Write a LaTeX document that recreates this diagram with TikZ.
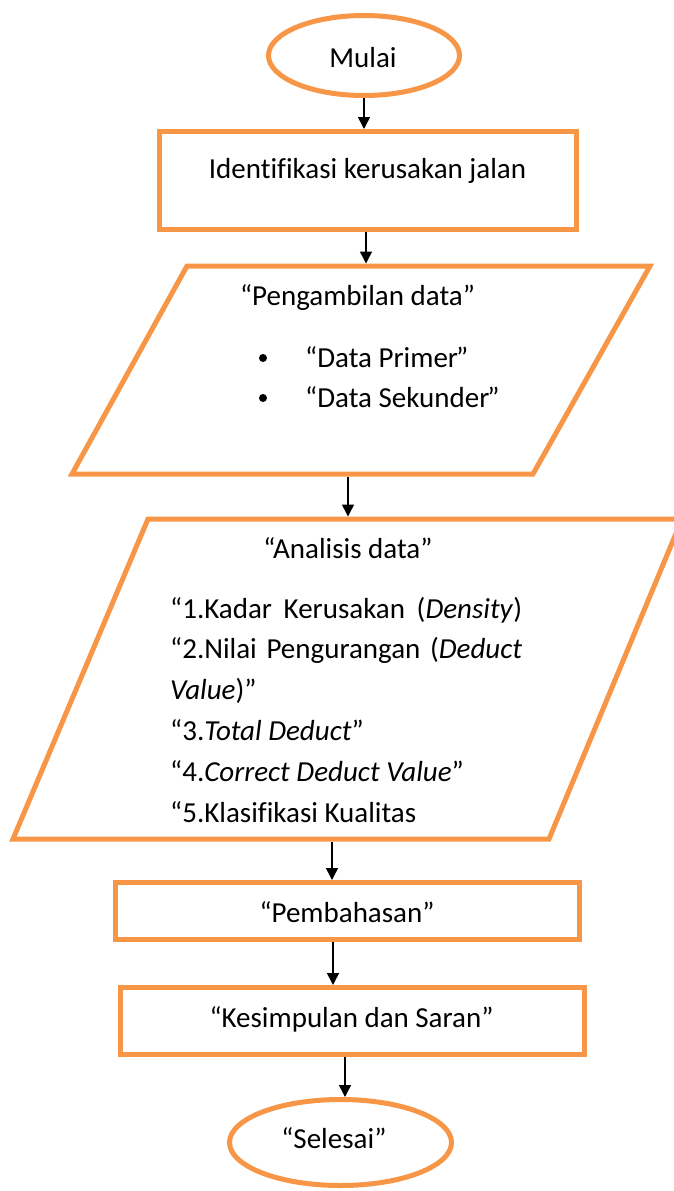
\documentclass[tikz,border=0pt]{standalone}
\usepackage{fontspec}
\setmainfont{Carlito}[Ligatures={NoCommon}]
\usetikzlibrary{shapes.geometric,arrows.meta}
\definecolor{orng}{RGB}{247,150,70}
\begin{document}
\begin{tikzpicture}[x=1pt,y=-1pt,
  box/.style={draw=orng,line width=5pt,rectangle,inner sep=0pt},
  term/.style={draw=orng,line width=5pt,ellipse,inner sep=0pt},
  io/.style={draw=orng,line width=5pt,line join=miter},
  arr/.style={draw=black,line width=1.5pt,-{Triangle[length=12pt,width=12pt]}},
  txt/.style={inner sep=0pt,font=\fontsize{29}{35}\selectfont},
  dot/.style={circle,fill=black,inner sep=0pt,minimum size=8pt}]
\useasboundingbox (0,0) rectangle (674,1191);

% shapes
\node[term,minimum width=191pt,minimum height=80pt] (mulai) at (364,55.5) {};
\node[box,minimum width=417pt,minimum height=98pt] (r1) at (368,180.5) {};
\draw[io] (187,266) -- (650,266) -- (533,474) -- (72,474) -- cycle;
\draw[io] (148,519) -- (682,519) -- (549,839) -- (13,839) -- cycle;
\node[box,minimum width=464pt,minimum height=57pt] (pem) at (347.5,911) {};
\node[box,minimum width=464pt,minimum height=67pt] (kes) at (352.5,1021) {};
\node[term,minimum width=222pt,minimum height=86pt] (sel) at (340.5,1142.5) {};

% connector ends on the parallelograms
\coordinate (p1in) at (366,263.5);
\coordinate (p1out) at (348,476.5);
\coordinate (p2in) at (348,516.5);
\coordinate (p2out) at (332,841.5);

% texts
\node[txt,anchor=base] (tMulai) at (363,67) {Mulai};
\node[txt,anchor=base] (tIdent) at (367.5,178) {Identifikasi kerusakan jalan};
\node[txt,anchor=base] (tPeng) at (357.5,305) {“Pengambilan data”};
\node[dot] (b1) at (263,358) {};
\node[dot] (b2) at (263,398) {};
\node[txt,anchor=base west] (tPrim) at (305,367) {“Data Primer\kern-2pt”};
\node[txt,anchor=base west] (tSek) at (305,407) {“Data Sekunder\kern-2pt”};
\node[txt,anchor=base] (tAnal) at (348,558) {“Analisis data”};
\node[txt,anchor=base west] (l1) at (170,618) {\makebox[352pt][s]{“1.Kadar Kerusakan (\textit{Density})}};
\node[txt,anchor=base west] (l2) at (170,658.8) {\makebox[352pt][s]{“2.Nilai Pengurangan (\textit{Deduct}}};
\node[txt,anchor=base west] (l3) at (170,699.6) {\textit{Value})”};
\node[txt,anchor=base west] (l4) at (170,740.4) {“3.\textit{Total Deduct}”};
\node[txt,anchor=base west] (l5) at (170,781.2) {“4.\textit{Correct Deduct Value}”};
\node[txt,anchor=base west] (l6) at (170,822) {“5.Klasifikasi Kualitas};
\node[txt,anchor=base] (tPem) at (347,922) {“Pembahasan”};
\node[txt,anchor=base] (tKes) at (351.5,1027) {“Kesimpulan dan Saran”};
\node[txt,anchor=base] (tSel) at (334,1148) {“Selesai”};

% connectors
\draw[arr] (mulai.south) -- (mulai.south |- r1.north);
\draw[arr] (r1.south -| p1in) -- (p1in);
\draw[arr] (p1out) -- (p2in);
\draw[arr] (p2out) -- (p2out |- pem.north);
\draw[arr] ([xshift=-14.5pt]pem.south) -- ([xshift=-14.5pt]pem.south |- kes.north);
\draw[arr] ([xshift=-7.5pt]kes.south) -- ([xshift=-7.5pt]kes.south |- sel.north);
\end{tikzpicture}
\end{document}
